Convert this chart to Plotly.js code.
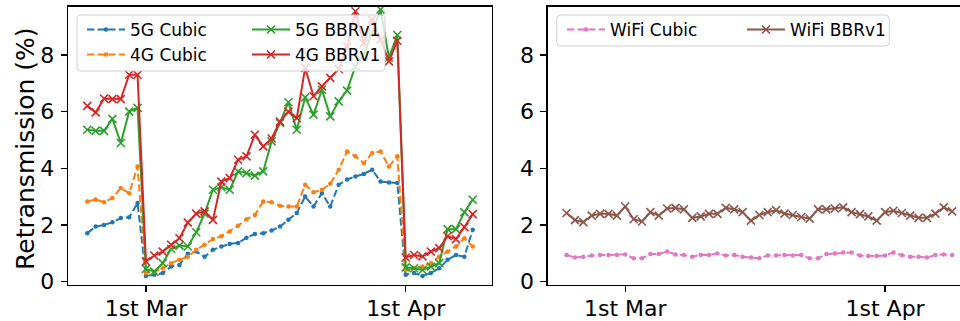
<!DOCTYPE html>
<html><head><meta charset="utf-8">
<script src="https://cdn.plot.ly/plotly-3.0.1.min.js"></script>
<style>html,body{margin:0;padding:0;background:#fff}#chart{width:960px;height:321px}</style>
</head><body><div id="chart"></div>
<script>
// ---------------- data ----------------
const dates = [
 '2021-02-22','2021-02-23','2021-02-24','2021-02-25','2021-02-26','2021-02-27','2021-02-28',
 '2021-03-01','2021-03-02','2021-03-03','2021-03-04','2021-03-05','2021-03-06','2021-03-07',
 '2021-03-08','2021-03-09','2021-03-10','2021-03-11','2021-03-12','2021-03-13','2021-03-14',
 '2021-03-15','2021-03-16','2021-03-17','2021-03-18','2021-03-19','2021-03-20','2021-03-21',
 '2021-03-22','2021-03-23','2021-03-24','2021-03-25','2021-03-26','2021-03-27','2021-03-28',
 '2021-03-29','2021-03-30','2021-03-31',
 '2021-04-01','2021-04-02','2021-04-03','2021-04-04','2021-04-05','2021-04-06','2021-04-07',
 '2021-04-08','2021-04-09'];
const tickDates = ['2021-03-01','2021-04-01'];
const tickLabels = ['1st Mar','1st Apr'];
const yTicks = [0, 2, 4, 6, 8];
const yTitle = 'Retransmission (%)';

const cubic5G = [1.71,1.94,2.00,2.09,2.24,2.27,2.77, 0.20,0.24,0.30,0.53,0.59,0.98,1.06,
 0.88,1.12,1.24,1.33,1.36,1.55,1.68, 1.71,1.80,1.94,2.18,2.42,3.00,2.65, 3.12,2.65,3.42,3.60,
 3.71,3.80,3.95, 3.53,3.50,3.48, 0.24,0.30,0.20,0.30,0.47,0.77,0.94, 0.88,1.83];
const cubic4G = [2.83,2.90,2.80,2.95,3.30,3.12,4.06, 0.30,0.35,0.47,0.65,0.77,0.88,1.12,
 1.30,1.50,1.60,1.77,1.97,2.20,2.35, 2.83,2.80,2.68,2.65,2.65,3.42,3.15, 3.24,3.45,3.95,4.59,
 4.42,4.18,4.54, 4.59,4.06,4.42, 0.41,0.47,0.53,0.65,0.88,1.06,1.24, 1.53,1.24];
const bbr5G = [5.36,5.32,5.32,5.74,4.89,6.00,6.13, 0.45,0.35,0.65,1.15,1.27,1.24,1.74,
 2.40,3.24,3.33,3.24,3.89,3.83,3.74, 3.89,4.95,5.60,6.33,5.36,6.50,5.89, 6.77,5.83,6.36,6.74,
 7.60,8.00,8.80, 9.60,7.90,8.70, 0.50,0.47,0.41,0.53,0.65,1.85,1.85, 2.45,2.89];
const bbr4G = [6.20,5.97,6.46,6.44,6.44,7.30,7.30, 0.71,0.92,1.06,1.30,1.53,2.08,2.40,
 2.48,2.18,3.53,3.65,4.30,4.42,5.18, 4.77,5.05,5.65,6.00,5.77,7.54,6.54, 6.89,7.19,7.50,8.30,
 9.54,8.40,9.25, 8.54,7.77,8.50, 0.85,0.94,0.89,1.06,1.18,1.60,1.50, 1.92,2.38];
const cubicWiFi = [0.94,0.85,0.88,0.92,0.94,0.94,0.94, 0.96,0.82,0.82,0.97,0.97,1.06,0.96,
 0.94,0.88,0.94,0.94,0.99,0.92,0.94, 0.88,0.85,0.82,0.92,0.92,0.94,0.92, 0.94,0.82,0.82,0.97,
 0.99,1.03,1.03, 0.92,0.90,0.90, 0.92,1.03,0.93,0.88,0.88,0.85,0.94, 0.96,0.94];
const bbrWiFi = [2.42,2.17,2.10,2.33,2.39,2.39,2.33, 2.65,2.20,2.12,2.45,2.33,2.58,2.60,
 2.55,2.25,2.30,2.39,2.39,2.60,2.55, 2.45,2.15,2.35,2.45,2.52,2.40,2.35, 2.28,2.22,2.55,2.55,
 2.58,2.62,2.45, 2.38,2.30,2.15, 2.45,2.50,2.42,2.33,2.25,2.25,2.40, 2.62,2.48];

// ---------------- style ----------------
const W = 960, H = 321;
const FONT = 'DejaVu Sans, sans-serif';
const px = x => x / W;            // pixel -> paper x
const py = y => (H - y) / H;      // pixel (from top) -> paper y

function cubicTrace(name, y, color, xa, ya, legend) {
  return {type:'scatter', mode:'lines+markers', name, x: dates, y, xaxis:xa, yaxis:ya, legend,
    line:{color, width:2, dash:'7.4px,3.2px'}, marker:{color, size:4.5, symbol:'circle'}};
}
function bbrTrace(name, y, color, xa, ya, legend) {
  return {type:'scatter', mode:'lines+markers', name, x: dates, y, xaxis:xa, yaxis:ya, legend,
    line:{color, width:2}, marker:{symbol:'x-thin', size:8, color, line:{color, width:1.6}}};
}

const data = [
  cubicTrace('5G Cubic', cubic5G, '#1f77b4', 'x', 'y', 'legend'),
  cubicTrace('4G Cubic', cubic4G, '#ff7f0e', 'x', 'y', 'legend2'),
  bbrTrace('5G BBRv1', bbr5G, '#2ca02c', 'x', 'y', 'legend'),
  bbrTrace('4G BBRv1', bbr4G, '#d62728', 'x', 'y', 'legend2'),
  cubicTrace('WiFi Cubic', cubicWiFi, '#e377c2', 'x2', 'y2', 'legend3'),
  bbrTrace('WiFi BBRv1', bbrWiFi, '#8c564b', 'x2', 'y2', 'legend3')
];

function roundRect(x0, y0, x1, y1, r) {
  const X = v => px(v).toFixed(5), Y = v => py(v).toFixed(5);
  return `M${X(x0+r)},${Y(y0)} L${X(x1-r)},${Y(y0)} Q${X(x1)},${Y(y0)} ${X(x1)},${Y(y0+r)} ` +
         `L${X(x1)},${Y(y1-r)} Q${X(x1)},${Y(y1)} ${X(x1-r)},${Y(y1)} ` +
         `L${X(x0+r)},${Y(y1)} Q${X(x0)},${Y(y1)} ${X(x0)},${Y(y1-r)} ` +
         `L${X(x0)},${Y(y0+r)} Q${X(x0)},${Y(y0)} ${X(x0+r)},${Y(y0)} Z`;
}
const boxStyle = {type:'path', xref:'paper', yref:'paper', layer:'above',
  fillcolor:'rgba(255,255,255,0.8)', line:{color:'rgba(204,204,204,0.9)', width:1}};

const axisCommon = {showline:true, linecolor:'#000', linewidth:1.3, ticks:'outside', ticklen:6,
  tickwidth:1.3, tickcolor:'#000', showgrid:false, zeroline:false,
  tickfont:{family:FONT, size:22, color:'#000'}};

const legendCommon = {orientation:'h', xanchor:'left', yanchor:'middle', bgcolor:'rgba(0,0,0,0)',
  borderwidth:0, font:{family:FONT, size:17, color:'#000'}, itemwidth:38,
  entrywidthmode:'pixels', itemclick:false, itemdoubleclick:false};

const yDomain = [py(285), py(6.7)];
const layout = {
  width: W, height: H, margin:{l:0, r:0, t:0, b:0}, paper_bgcolor:'#fff', plot_bgcolor:'#fff',
  showlegend: true,
  font:{family:FONT, color:'#000'},
  xaxis: Object.assign({}, axisCommon, {type:'date', domain:[px(68), px(492)], anchor:'y',
    range:['2021-02-19 16:48','2021-04-11 07:12'], tickvals:tickDates, ticktext:tickLabels,
    mirror:true, ticklabelstandoff:-3}),
  yaxis: Object.assign({}, axisCommon, {domain:yDomain, anchor:'x', range:[-0.12, 9.7],
    tickvals:yTicks, mirror:true, ticklabelstandoff:2}),
  xaxis2: Object.assign({}, axisCommon, {type:'date', domain:[px(547.7), 1], anchor:'y2',
    range:['2021-02-19 18:00','2021-04-09 22:30'], tickvals:tickDates, ticktext:tickLabels,
    mirror:true, ticklabelstandoff:-3}),
  yaxis2: Object.assign({}, axisCommon, {domain:yDomain, anchor:'x2', range:[-0.12, 9.7],
    tickvals:yTicks, mirror:false, ticklabelstandoff:2}),
  legend: Object.assign({}, legendCommon, {x:px(82), y:py(30), entrywidth:112}),
  legend2: Object.assign({}, legendCommon, {x:px(82), y:py(55), entrywidth:112}),
  legend3: Object.assign({}, legendCommon, {x:px(562), y:py(30), entrywidth:127}),
  annotations: [{text:yTitle, xref:'paper', yref:'paper', x:px(25), y:py(149), textangle:-90,
    xanchor:'center', yanchor:'middle', showarrow:false,
    font:{family:FONT, size:25, color:'#000'}}],
  shapes: [
    Object.assign({}, boxStyle, {path: roundRect(77, 15, 385, 71, 4)}),
    Object.assign({}, boxStyle, {path: roundRect(556.7, 15, 889.3, 46, 4)})
  ]
};

Plotly.newPlot('chart', data, layout, {staticPlot:true, displayModeBar:false});
</script>
</body></html>
